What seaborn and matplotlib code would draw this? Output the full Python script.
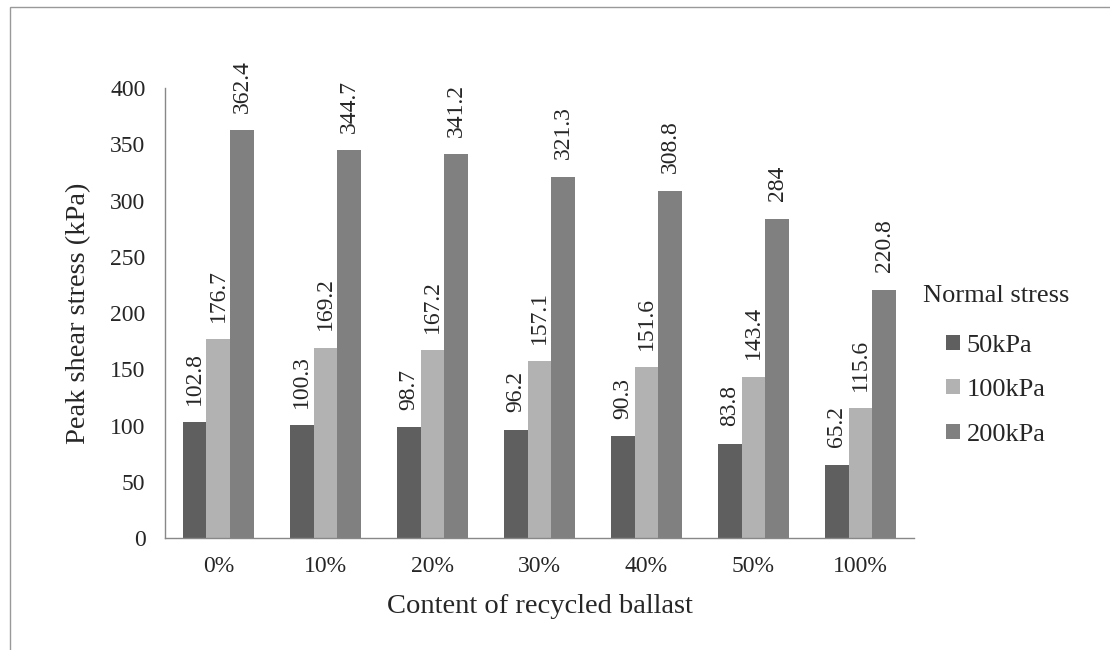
import numpy as np
import pandas as pd
import matplotlib
matplotlib.use('Agg')
import matplotlib.pyplot as plt
import seaborn as sns
from matplotlib.patches import Rectangle

contents = ['0%', '10%', '20%', '30%', '40%', '50%', '100%']
stress_levels = ['50kPa', '100kPa', '200kPa']
shear_50 = [102.8, 100.3, 98.7, 96.2, 90.3, 83.8, 65.2]
shear_100 = [176.7, 169.2, 167.2, 157.1, 151.6, 143.4, 115.6]
shear_200 = [362.4, 344.7, 341.2, 321.3, 308.8, 284, 220.8]
label_text = [
    ['102.8', '100.3', '98.7', '96.2', '90.3', '83.8', '65.2'],
    ['176.7', '169.2', '167.2', '157.1', '151.6', '143.4', '115.6'],
    ['362.4', '344.7', '341.2', '321.3', '308.8', '284', '220.8'],
]
colors = ['#5f5f5f', '#b2b2b2', '#808080']

df = pd.DataFrame({
    'content': contents * 3,
    'stress': np.repeat(stress_levels, len(contents)),
    'shear': shear_50 + shear_100 + shear_200,
})

sns.set_style('white')
plt.rcParams['font.family'] = ['Liberation Serif', 'DejaVu Serif']

fig = plt.figure(figsize=(11.1, 6.5), dpi=100)
ax = fig.add_axes([0.1486, 0.1723, 0.6748, 0.6923])

sns.barplot(data=df, x='content', y='shear', hue='stress', order=contents,
            hue_order=stress_levels, palette=colors, width=0.67, gap=0,
            saturation=1, edgecolor='none', ax=ax)

for cont, labels in zip(ax.containers, label_text):
    ax.bar_label(cont, labels=labels, rotation=90, padding=12.5, fontsize=17)

ax.set_ylim(0, 400)
ax.set_yticks(range(0, 401, 50))
ax.set_xlim(-0.5, len(contents) - 0.5)
ax.set_xticks(np.arange(-0.5, len(contents)), minor=True)
ax.tick_params(axis='x', which='major', length=0, labelsize=17, pad=13)
ax.tick_params(axis='x', which='minor', length=5, color='#888888', direction='out')
ax.tick_params(axis='y', length=5, color='#888888', direction='out', labelsize=17, pad=9)
for s in ['top', 'right']:
    ax.spines[s].set_visible(False)
for s in ['left', 'bottom']:
    ax.spines[s].set_color('#888888')
    ax.spines[s].set_linewidth(1)
ax.set_xlabel('Content of recycled ballast', fontsize=20.5, labelpad=12)
ax.set_ylabel('Peak shear stress (kPa)', fontsize=20.5, labelpad=14)

handles, _ = ax.get_legend_handles_labels()
leg = ax.legend(handles, stress_levels, title='Normal stress', frameon=False,
                loc='upper left', bbox_to_anchor=(0.810, 0.598),
                bbox_transform=fig.transFigure, fontsize=19, title_fontsize=19,
                handlelength=0.5, handleheight=0.5, handletextpad=0.27,
                labelspacing=0.85)
leg._legend_box.sep = 20

fig.patches.append(Rectangle((10 / 1110, -0.1), 1.2, 1 - 7 / 650 + 0.1,
                             transform=fig.transFigure, fill=False,
                             edgecolor='#999999', linewidth=1))

fig.savefig('out.png', dpi=100)
